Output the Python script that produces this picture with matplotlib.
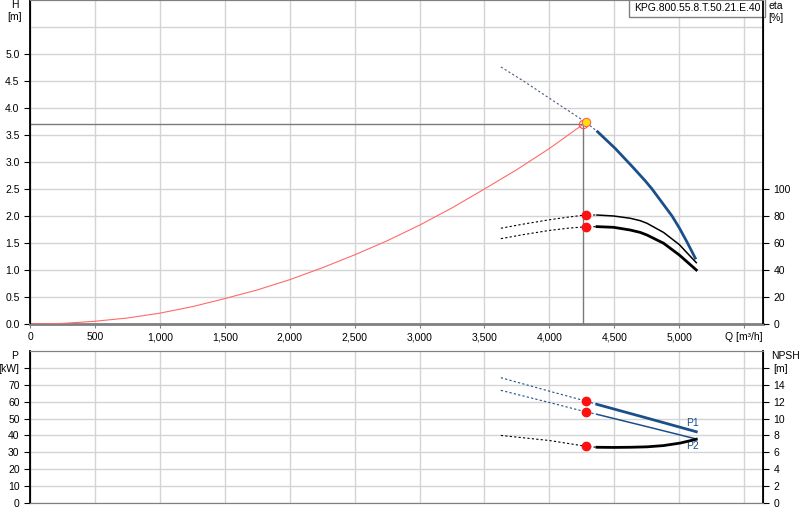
import numpy as np
import matplotlib
matplotlib.use("Agg")
import matplotlib.pyplot as plt

plt.rcParams["font.family"] = ["Liberation Sans", "DejaVu Sans"]
plt.rcParams["font.size"] = 7.5

# -----------------------------
# Data
# -----------------------------
# pump head curve H [m]
q_h_dash = [3626, 3800, 4000, 4278, 4371]
h_dash = [4.76, 4.50, 4.18, 3.74, 3.56]
q_h = [4371, 4507, 4636, 4738, 4790, 4944, 5000, 5059, 5123]
h = [3.56, 3.25, 2.92, 2.65, 2.50, 2.00, 1.78, 1.52, 1.22]

# system curve (red)
q_sys = [0, 250, 500, 750, 1000, 1250, 1500, 1750, 2000, 2250, 2500,
         2750, 3000, 3250, 3500, 3750, 4000, 4261]
h_sys = [0.0, 0.01, 0.05, 0.11, 0.20, 0.32, 0.47, 0.63, 0.82, 1.04, 1.28,
         1.54, 1.83, 2.15, 2.50, 2.86, 3.25, 3.70]

# efficiency curves eta [%]
q_eta_dash = [3626, 3800, 4000, 4150, 4278, 4366]
eta1_dash = [70.9, 74.0, 77.2, 79.2, 80.8, 80.7]
eta2_dash = [63.2, 66.2, 69.3, 71.0, 72.0, 72.1]
q_eta = [4366, 4494, 4622, 4700, 4751, 4879, 5000, 5131]
eta1 = [80.7, 80.0, 78.3, 76.5, 74.6, 67.8, 58.8, 45.4]
eta2 = [72.1, 71.6, 69.6, 67.8, 65.9, 59.8, 51.1, 40.0]

# power P [kW]
q_p_dash = [3626, 4000, 4288, 4366]
p1_dash = [74.2, 66.2, 60.2, 58.4]
p2_dash = [66.7, 59.5, 53.8, 52.5]
q_p = [4366, 4751, 5131]
p1 = [58.4, 50.3, 42.2]
p2 = [52.5, 45.2, 37.9]

# NPSH [m]
q_npsh_dash = [3626, 4000, 4288, 4366]
npsh_dash = [8.0, 7.4, 6.7, 6.6]
q_npsh = [4366, 4494, 4622, 4751, 4879, 5008, 5131]
npsh = [6.6, 6.58, 6.6, 6.65, 6.8, 7.1, 7.55]

# duty point
q_op, h_op = 4261, 3.70
q_pt = 4280
eta_pts = [80.8, 72.0]
p_pts = [60.2, 53.8]
npsh_pt = 6.7

pump_name = "KPG.800.55.8.T.50.21.E.40"

blue = "#1b4f8a"
grid_c = "#d4d4d4"

fig = plt.figure(figsize=(8, 5.2), dpi=100)
ax = fig.add_axes([0.0375, 0.377, 0.9163, 0.623])
ax2 = ax.twinx()
bx = fig.add_axes([0.0375, 0.0327, 0.9163, 0.2923])
bx2 = bx.twinx()

xmax = 5645

# -----------------------------
# Top: H / eta
# -----------------------------
ax.set_xlim(0, xmax)
ax.set_ylim(0, 6.0)
ax2.set_ylim(0, 240)
ax.set_xticks(np.arange(0, 5501, 500))
ax.set_xticklabels(["0", "500", "1,000", "1,500", "2,000", "2,500", "3,000",
                    "3,500", "4,000", "4,500", "5,000", "Q [m\u00b3/h]"])
ax.set_yticks(np.arange(0, 5.51, 0.5))
ax.set_yticklabels([f"{v:.1f}" for v in np.arange(0, 5.01, 0.5)] + [""])
ax.tick_params(axis="y", which="both", length=4, width=0.8)
ax.yaxis.get_major_ticks()[-1].tick1line.set_visible(False)
ax.tick_params(axis="x", length=3, width=0.8, colors="#808080", labelcolor="black", pad=3)
ax2.set_yticks(np.arange(0, 101, 20))
ax2.tick_params(axis="y", length=4, width=0.8)
ax.grid(True, color=grid_c, linewidth=1.0)
ax.set_axisbelow(True)

ax.plot(q_sys, h_sys, color="#ff6a6a", linewidth=0.8, zorder=3)
ax.plot([0, q_op], [h_op, h_op], color="#7a7a7a", linewidth=1.0, zorder=3)
ax.plot([q_op, q_op], [0, h_op], color="#7a7a7a", linewidth=1.0, zorder=3)
ax.plot(q_h_dash, h_dash, color="#4a5a80", linewidth=0.8, linestyle=(0, (2, 2)), zorder=3)
ax.plot(q_h, h, color=blue, linewidth=2.0, zorder=4)
ax.plot(q_op, h_op, marker="o", markersize=6, markerfacecolor="none",
        markeredgecolor="#ff5050", markeredgewidth=0.8, zorder=5)
ax.plot(q_pt, 3.74, marker="o", markersize=6, markerfacecolor="#ffe000",
        markeredgecolor="#ff6060", markeredgewidth=0.8, zorder=6)

ax2.plot(q_eta_dash, eta1_dash, color="black", linewidth=0.8, linestyle=(0, (2, 2)), zorder=3)
ax2.plot(q_eta_dash, eta2_dash, color="black", linewidth=0.8, linestyle=(0, (2, 2)), zorder=3)
ax2.plot(q_eta, eta1, color="black", linewidth=1.1, zorder=4)
ax2.plot(q_eta, eta2, color="black", linewidth=2.0, zorder=4)
ax2.plot([q_pt, q_pt], eta_pts, linestyle="none", marker="o", markersize=6,
         color="#ff1010", zorder=6)

for sp in ["top", "bottom"]:
    ax.spines[sp].set_color("#808080")
    ax2.spines[sp].set_color("#808080")
ax.spines["bottom"].set_linewidth(2.0)
ax.spines["left"].set_linewidth(1.3)
ax2.spines["right"].set_linewidth(1.3)

ax.text(0.9965, 0.992, pump_name, transform=ax.transAxes, ha="right", va="top",
        fontsize=7.5, bbox=dict(boxstyle="square,pad=0.45", facecolor="white",
                                edgecolor="#808080", linewidth=1.0), zorder=10)

fig.text(15 / 800, 1 - 11 / 520, "H\n[m]", ha="center", va="center", fontsize=7.5, linespacing=1.3)
fig.text(776 / 800, 1 - 12 / 520, "eta\n[%]", ha="center", va="center", fontsize=7.5, linespacing=1.3)

# -----------------------------
# Bottom: P / NPSH
# -----------------------------
bx.set_xlim(0, xmax)
bx.set_ylim(0, 90)
bx2.set_ylim(0, 18)
bx.set_xticks(np.arange(0, 5501, 500))
bx.set_xticklabels([])
bx.tick_params(axis="x", length=0)
bx.set_yticks(np.arange(0, 81, 10))
bx.set_yticklabels([str(v) for v in range(0, 71, 10)] + ["[kW]"])
bx.tick_params(axis="y", length=4, width=0.8)
bx2.set_yticks(np.arange(0, 17, 2))
bx2.set_yticklabels([str(v) for v in range(0, 15, 2)] + ["[m]"])
bx2.tick_params(axis="y", length=4, width=0.8)
bx.grid(True, color=grid_c, linewidth=1.0)
bx.set_axisbelow(True)

bx.plot(q_p_dash, p1_dash, color=blue, linewidth=0.8, linestyle=(0, (2, 2)), zorder=3)
bx.plot(q_p_dash, p2_dash, color=blue, linewidth=0.8, linestyle=(0, (2, 2)), zorder=3)
bx.plot(q_p, p1, color=blue, linewidth=2.0, zorder=4)
bx.plot(q_p, p2, color=blue, linewidth=1.1, zorder=4)
bx.plot([q_pt, q_pt], p_pts, linestyle="none", marker="o", markersize=6,
        color="#ff1010", zorder=6)
bx.text(5100, 47.5, "P1", color=blue, fontsize=7.5, ha="center", va="center")
bx.text(5100, 33.5, "P2", color=blue, fontsize=7.5, ha="center", va="center")

bx2.plot(q_npsh_dash, npsh_dash, color="black", linewidth=0.8, linestyle=(0, (2, 2)), zorder=3)
bx2.plot(q_npsh, npsh, color="black", linewidth=2.0, zorder=4)
bx2.plot(q_pt, npsh_pt, linestyle="none", marker="o", markersize=6,
         color="#ff1010", zorder=6)

for sp in ["top", "bottom"]:
    bx.spines[sp].set_color("#808080")
    bx2.spines[sp].set_color("#808080")
bx.spines["left"].set_linewidth(1.3)
bx2.spines["right"].set_linewidth(1.3)

fig.text(15 / 800, 1 - 356 / 520, "P", ha="center", va="center", fontsize=7.5)
fig.text(785 / 800, 1 - 356 / 520, "NPSH", ha="center", va="center", fontsize=7.5)

fig.savefig("out.png", dpi=100)
